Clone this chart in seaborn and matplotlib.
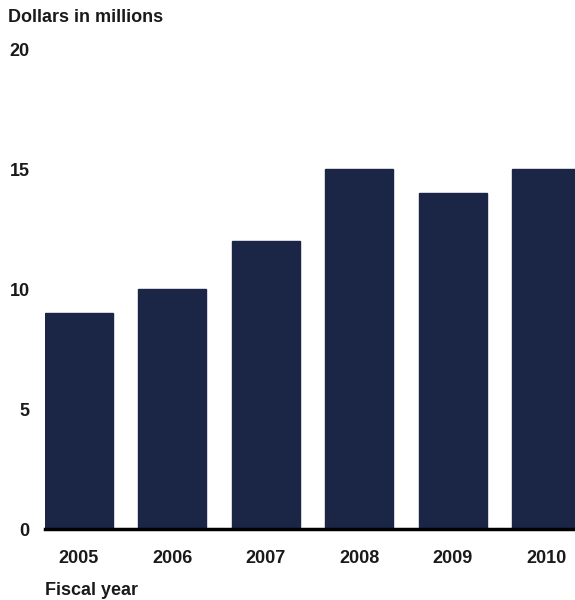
import matplotlib
matplotlib.use("Agg")
import matplotlib.pyplot as plt
import seaborn as sns
import pandas as pd

# Data
years = ["2005", "2006", "2007", "2008", "2009", "2010"]
dollars = [9, 10, 12, 15, 14, 15]
y_ticks = [0, 5, 10, 15, 20]

df = pd.DataFrame({"year": years, "dollars": dollars})

sns.set_style("white")
plt.rcParams['font.family'] = ['Liberation Sans', 'DejaVu Sans']
plt.rcParams['text.color'] = '#1a1a1a'
plt.rcParams['xtick.color'] = '#1a1a1a'
plt.rcParams['ytick.color'] = '#1a1a1a'

fig = plt.figure(figsize=(5.75, 6), dpi=100)
ax = fig.add_axes([0.078, 0.118, 0.922, 0.8])

sns.barplot(data=df, x="year", y="dollars", color="#1b2647", width=0.73,
            saturation=1, edgecolor="#1b2647", ax=ax)

ax.set_xlim(-0.365, 5.31)
ax.set_ylim(0, 20)
ax.set_yticks(y_ticks)
ax.set_yticklabels([str(t) for t in y_ticks], fontsize=13, fontweight="bold")
ax.set_xticks(range(len(years)))
ax.set_xticklabels(years, fontsize=13, fontweight="bold")
ax.tick_params(axis="y", length=0, pad=11)
ax.tick_params(axis="x", length=0, pad=15)
ax.set_xlabel("")
ax.set_ylabel("")

for s in ["top", "right", "left"]:
    ax.spines[s].set_visible(False)
ax.spines["bottom"].set_linewidth(2.5)
ax.spines["bottom"].set_color("black")

fig.text(0.014, 0.97, "Dollars in millions", fontsize=13, fontweight="bold",
         ha="left", va="center")
fig.text(0.078, 0.016, "Fiscal year", fontsize=13, fontweight="bold",
         ha="left", va="center")

plt.savefig("out.png", dpi=100)
